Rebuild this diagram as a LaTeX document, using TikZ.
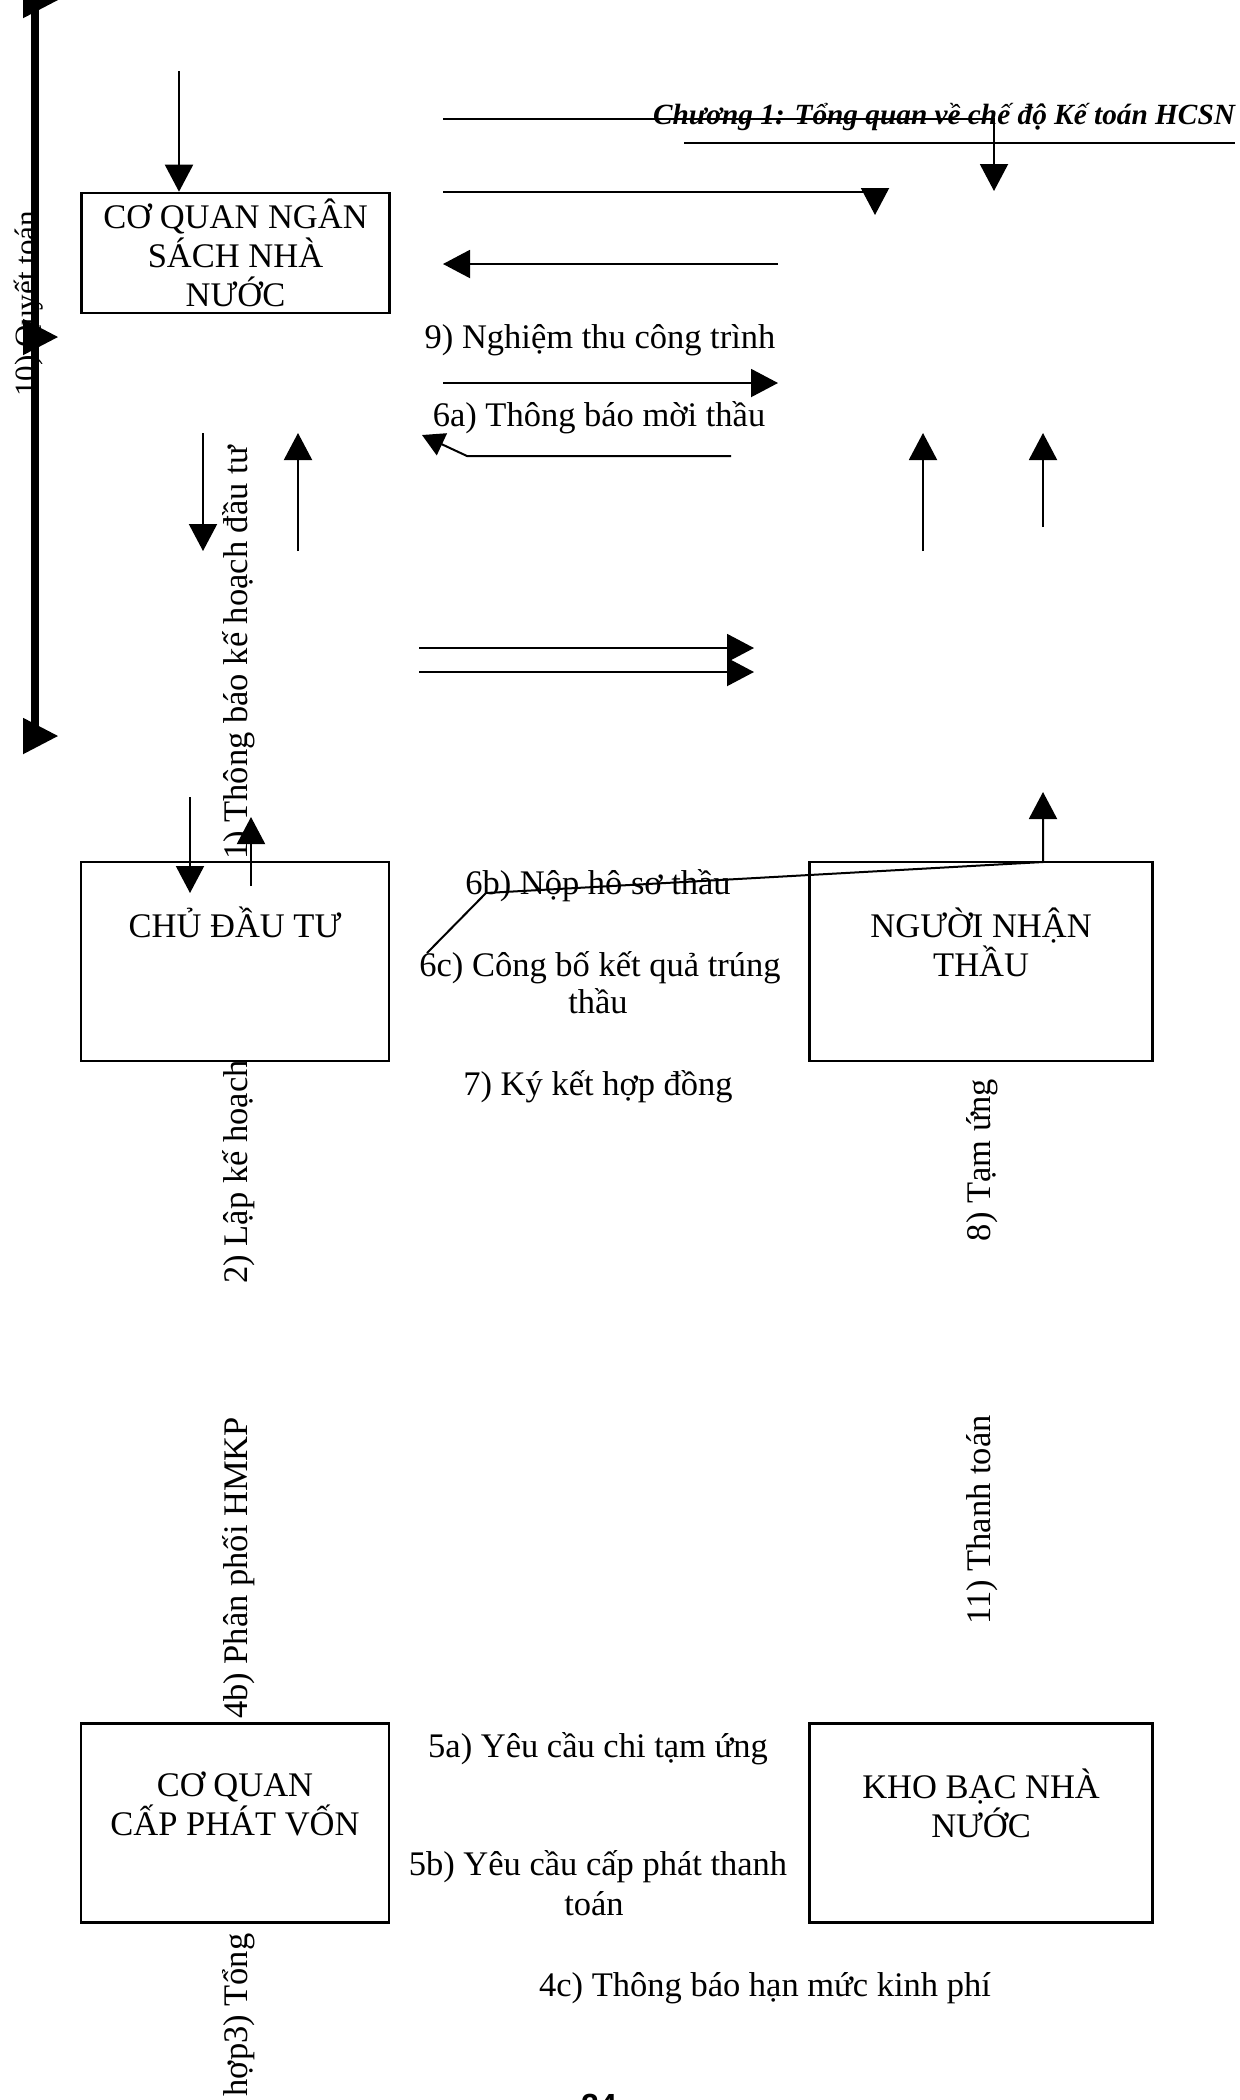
\documentclass[tikz,border=0pt]{standalone}
\usepackage{fontspec}
\setmainfont{Liberation Serif}
\newfontfamily\pagefont{Liberation Sans}
\usetikzlibrary{arrows.meta,positioning}

\begin{document}
\begin{tikzpicture}[x=0.5pt,y=-0.5pt,line width=1pt,font=\fontsize{17.25}{19.5}\selectfont]
\tikzstyle{box}=[draw,line width=1.3pt,rectangle,inner sep=0pt,align=center,minimum width=154pt,minimum height=99.5pt]
\tikzstyle{wide box}=[box,minimum width=171.5pt]
\tikzstyle{arrow}=[-{Triangle[length=13.5pt,width=14pt]}]
\tikzstyle{small arrow}=[-{Triangle[length=11pt,width=12pt]}]
\tikzstyle{thick line}=[line width=3.75pt]
\tikzstyle{thick tip}=[-{Triangle[length=17.5pt,width=18pt]}]
\tikzstyle{side label}=[rotate=90,inner sep=0pt]
\tikzstyle{flow label}=[anchor=base,inner sep=0pt,align=center]

\useasboundingbox (0,0) rectangle (1239,2100);

% Page header
\node[anchor=base,inner sep=0pt,font=\fontsize{14.65}{16}\selectfont\bfseries\itshape] (head) at (944,124) {Chương 1: Tổng quan về chế độ Kế toán HCSN};
\coordinate (HL-1) at (684,143);
\coordinate (HL-2) at (1235,143);
\draw (HL-1) -- (HL-2);

% Draw the boxes
\node[box,minimum height=60pt] (NSNN) at (235.5,253) {CƠ QUAN NGÂN\\SÁCH NHÀ\\NƯỚC};
\node[box] (CDT) at (235,961.5) {CHỦ ĐẦU TƯ\\\mbox{}\\\mbox{}};
\node[wide box,right=209pt of CDT] (NNT) {NGƯỜI NHẬN\\THẦU\\\mbox{}};
\node[box,below=330pt of CDT] (CQCP) {CƠ QUAN\\CẤP PHÁT VỐN\\\mbox{}};
\node[wide box,right=209pt of CQCP] (KBNN) {KHO BẠC NHÀ\\NƯỚC\\\mbox{}};

% Thick line on the left
\coordinate (QT-top) at (35,-20);
\coordinate (QT-bot) at (35,731);
\draw[thick line] (QT-top) -- (QT-bot);
\foreach \n/\xa/\y in {1/23/0, 2/32/337, 3/23/736}{
  \coordinate (QS-\n) at (\xa,\y);
  \coordinate (QE-\n) at (58,\y);
  \draw[thick tip] (QS-\n) -- (QE-\n);
}

% Straight arrows
\foreach \n/\xa/\ya/\xb/\yb in {1/778/264/443/264, 2/443/383/778/383,
  3/203/433/203/551, 4/298/551/298/433, 5/923/551/923/433, 6/1043/527/1043/433,
  7/419/648/754/648, 8/419/672/754/672, 9/190/797/190/893, 10/251/886/251/817}{
  \coordinate (S-\n) at (\xa,\ya);
  \coordinate (E-\n) at (\xb,\yb);
  \draw[arrow] (S-\n) -- (E-\n);
}

% Arrow into the top box
\coordinate (in-1) at (179,71);
\draw[arrow] (in-1) -- (in-1 |- NSNN.north);

% Elbow arrows at the top
\coordinate (H-1) at (443,119);
\coordinate (HE-1) at (994,191);
\draw[arrow] (H-1) -| (HE-1);
\coordinate (H-2) at (443,192);
\coordinate (HE-2) at (875,215);
\draw[arrow] (H-2) -| (HE-2);

% Bent arrows
\coordinate (B-1) at (731,456);
\coordinate (B-2) at (467,456);
\coordinate (B-3) at (422,435);
\draw[small arrow] (B-1) -- (B-2) -- (B-3);
\coordinate (P-1) at (427,953);
\coordinate (P-2) at (486,893);
\coordinate (P-3) at (1043,862);
\coordinate (P-4) at (1043,792);
\draw[arrow] (P-1) -- (P-2) -- (P-3) -- (P-4);

% Write the flow labels
\node[flow label] (L-9) at (600,348) {9) Nghiệm thu công trình};
\node[flow label] (L-6a) at (599,426) {6a) Thông báo mời thầu};
\node[flow label] (L-6b) at (598,894) {6b) Nộp hô sơ thầu};
\node[flow label] (L-6c) at (600,976) {6c) Công bố kết quả trúng};
\node[flow label] (L-6c2) at (598,1013) {thầu};
\node[flow label] (L-7) at (598,1095) {7) Ký kết hợp đồng};
\node[flow label] (L-5a) at (598,1757) {5a) Yêu cầu chi tạm ứng};
\node[flow label] (L-5b) at (598,1875) {5b) Yêu cầu cấp phát thanh};
\node[flow label] (L-5b2) at (594,1915) {toán};
\node[flow label] (L-4c) at (765,1996) {4c) Thông báo hạn mức kinh phí};

% Write the side labels
\node[side label,font=\fontsize{15.5}{17}\selectfont] (L-10) at (29,304) {10) Quyết toán};
\node[side label] (L-1) at (239,653) {1) Thông báo kế hoạch đầu tư};
\node[side label] (L-2) at (239,1172) {2) Lập kế hoạch};
\node[side label] (L-4b) at (239,1568) {4b) Phân phối HMKP};
\node[side label] (L-3) at (239,2015) {hợp3) Tổng};
\node[side label] (L-8) at (982,1160) {8) Tạm ứng};
\node[side label] (L-11) at (982,1520) {11) Thanh toán};

% Page number
\node[anchor=north,inner sep=0pt,font=\pagefont\fontsize{16}{18}\selectfont\bfseries] (page) at (599,2093) {24};

\end{tikzpicture}
\end{document}
